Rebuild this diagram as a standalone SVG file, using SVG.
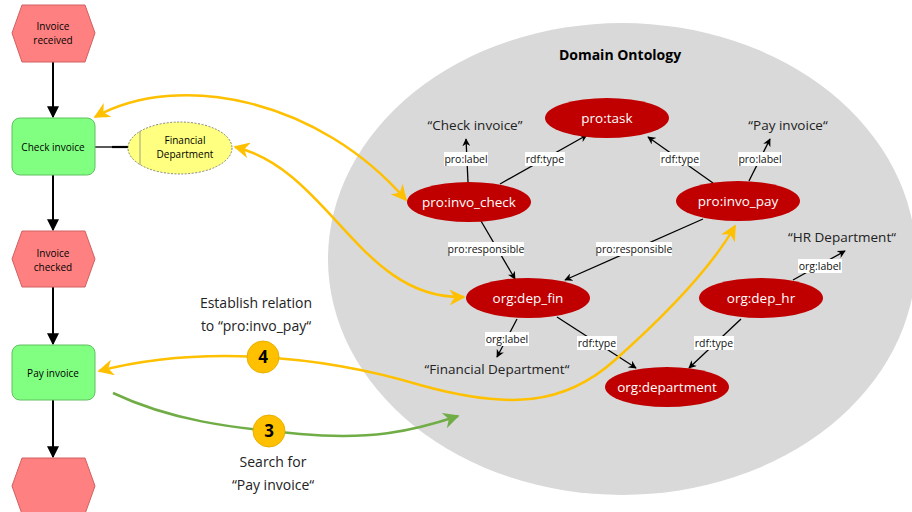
<svg xmlns="http://www.w3.org/2000/svg" width="912" height="512" viewBox="0 0 912 512">
<style>
text{font-family:"Open Sans","Liberation Sans",sans-serif;}
.ev{fill:#FF8080;stroke:#D06060;stroke-width:1}
.fn{fill:#80FF80;stroke:#60C060;stroke-width:1}
.pt{font-size:10px;fill:#000;text-anchor:middle}
.on{fill:#C00000}
.ot{font-size:13.5px;fill:#fff;text-anchor:middle}
.lit{font-size:13.5px;fill:#222;text-anchor:middle}
.el{font-size:10.5px;fill:#111;text-anchor:middle}
.elb{fill:#fff}
.bk{stroke:#000;stroke-width:1.3;fill:none;marker-end:url(#ab)}
.pf{stroke:#000;stroke-width:2;fill:none;marker-end:url(#ap)}
.yl{stroke:#FFC000;stroke-width:2.5;fill:none;marker-end:url(#ay);marker-start:url(#ays)}
.gr{stroke:#70AD47;stroke-width:2.5;fill:none;marker-end:url(#ag)}
.num{fill:#FFC000;stroke:#E8B000;stroke-width:1}
.nt{font-size:17px;font-weight:bold;fill:#000;text-anchor:middle}
.cap{font-size:14px;fill:#222;text-anchor:middle}
</style>
<defs>
<marker id="ab" viewBox="0 0 10 10" refX="9" refY="5" markerWidth="8" markerHeight="8" orient="auto" markerUnits="userSpaceOnUse"><path d="M0,0 L10,5 L0,10 L3,5 z" fill="#000"/></marker>
<marker id="ap" viewBox="0 0 10 10" refX="9" refY="5" markerWidth="12" markerHeight="12" orient="auto" markerUnits="userSpaceOnUse"><path d="M0,0 L10,5 L0,10 z" fill="#000"/></marker>
<marker id="ay" viewBox="0 0 10 10" refX="9" refY="5" markerWidth="16" markerHeight="16" orient="auto" markerUnits="userSpaceOnUse"><path d="M0,0 L10,5 L0,10 L3,5 z" fill="#FFC000"/></marker>
<marker id="ays" viewBox="0 0 10 10" refX="1" refY="5" markerWidth="16" markerHeight="16" orient="auto" markerUnits="userSpaceOnUse"><path d="M10,0 L0,5 L10,10 L7,5 z" fill="#FFC000"/></marker>
<marker id="ag" viewBox="0 0 10 10" refX="9" refY="5" markerWidth="16" markerHeight="16" orient="auto" markerUnits="userSpaceOnUse"><path d="M0,0 L10,5 L0,10 L3,5 z" fill="#70AD47"/></marker>
</defs>
<rect width="912" height="512" fill="#fff"/>
<g id="ontology-area">
<ellipse cx="622" cy="259" rx="294" ry="236" fill="#D9D9D9"/>
<text x="620" y="60" font-size="14" font-weight="bold" text-anchor="middle" fill="#000">Domain Ontology</text>
</g>
<g id="connectors">
<line class="pf" x1="53" y1="62" x2="53" y2="117"/>
<line class="pf" x1="53" y1="175" x2="53" y2="230"/>
<line class="pf" x1="53" y1="287" x2="53" y2="344"/>
<line class="pf" x1="53" y1="400" x2="53" y2="457"/>
<line x1="95" y1="147" x2="112" y2="147" stroke="#000" stroke-width="1.3"/>
<line x1="112" y1="147" x2="128" y2="147" stroke="#000" stroke-width="2.2"/>
<line class="bk" x1="468" y1="182" x2="466" y2="139"/>
<line class="bk" x1="500" y1="184" x2="587" y2="135"/>
<line class="bk" x1="713" y1="183" x2="648" y2="137"/>
<line class="bk" x1="749" y1="181" x2="770" y2="139"/>
<line class="bk" x1="481" y1="221" x2="515" y2="279"/>
<line class="bk" x1="703" y1="219" x2="565" y2="280"/>
<line class="bk" x1="793" y1="280" x2="845" y2="251"/>
<line class="bk" x1="517" y1="319" x2="497" y2="357"/>
<line class="bk" x1="557" y1="317" x2="636" y2="368"/>
<line class="bk" x1="741" y1="319" x2="689" y2="368"/>
<path class="yl" d="M95,117 C180,70 320,100 406,200"/>
<path class="yl" d="M235,147 C330,170 360,300 464,297"/>
<path class="yl" d="M99,371 C200,345 320,355 420,385 C510,410 565,405 615,360 C660,320 710,270 735,226"/>
<path class="gr" d="M113,393 C170,420 230,428 300,434 C370,440 410,432 458,416"/>
<g id="edge-labels">
<rect class="elb" x="444" y="152" width="44" height="14"/><text class="el" x="466" y="163">pro:label</text>
<rect class="elb" x="525" y="152" width="40" height="14"/><text class="el" x="545" y="163">rdf:type</text>
<rect class="elb" x="660" y="152" width="40" height="14"/><text class="el" x="680" y="163">rdf:type</text>
<rect class="elb" x="738" y="152" width="44" height="14"/><text class="el" x="760" y="163">pro:label</text>
<rect class="elb" x="448" y="242" width="76" height="14"/><text class="el" x="486" y="253">pro:responsible</text>
<rect class="elb" x="596" y="242" width="76" height="14"/><text class="el" x="634" y="253">pro:responsible</text>
<rect class="elb" x="798" y="259" width="44" height="14"/><text class="el" x="820" y="270">org:label</text>
<rect class="elb" x="485" y="332" width="44" height="14"/><text class="el" x="507" y="343">org:label</text>
<rect class="elb" x="577" y="336" width="40" height="14"/><text class="el" x="597" y="347">rdf:type</text>
<rect class="elb" x="694" y="336" width="40" height="14"/><text class="el" x="714" y="347">rdf:type</text>
</g>
</g>
<g id="invoice-received"><polygon class="ev" points="22,5 85,5 95,33 85,62 22,62 12,33"/><text class="pt" x="53" y="30">Invoice</text><text class="pt" x="53" y="44">received</text></g>
<g id="check-invoice"><rect class="fn" x="12" y="118" width="83" height="57" rx="8"/><text class="pt" x="53" y="151">Check invoice</text></g>
<g id="invoice-checked"><polygon class="ev" points="22,231 85,231 95,259 85,287 22,287 12,259"/><text class="pt" x="53" y="257">Invoice</text><text class="pt" x="53" y="271">checked</text></g>
<g id="pay-invoice"><rect class="fn" x="12" y="345" width="83" height="55" rx="8"/><text class="pt" x="53" y="377">Pay invoice</text></g>
<g id="end-event"><polygon class="ev" points="22,458 85,458 95,486 85,514 22,514 12,486"/></g>
<g id="financial-department"><ellipse cx="180" cy="148" rx="52" ry="26" fill="#FFFF80" stroke="#666" stroke-width="0.8" stroke-dasharray="2,1.5"/><line x1="140" y1="131" x2="140" y2="165" stroke="#888" stroke-width="0.8"/><text class="pt" x="185" y="144">Financial</text><text class="pt" x="185" y="158">Department</text></g>
<g id="pro-task"><ellipse class="on" cx="607" cy="118" rx="62" ry="20"/><text class="ot" x="607" y="123">pro:task</text></g>
<g id="pro-invo-check"><ellipse class="on" cx="469" cy="202" rx="62" ry="20"/><text class="ot" x="469" y="207">pro:invo_check</text></g>
<g id="pro-invo-pay"><ellipse class="on" cx="738" cy="201" rx="62" ry="20"/><text class="ot" x="738" y="206">pro:invo_pay</text></g>
<g id="org-dep-fin"><ellipse class="on" cx="528" cy="298" rx="62" ry="20"/><text class="ot" x="528" y="303">org:dep_fin</text></g>
<g id="org-dep-hr"><ellipse class="on" cx="761" cy="298" rx="62" ry="20"/><text class="ot" x="761" y="303">org:dep_hr</text></g>
<g id="org-department"><ellipse class="on" cx="667" cy="387" rx="62" ry="20"/><text class="ot" x="667" y="392">org:department</text></g>
<g id="literals">
<text class="lit" x="475" y="130">“Check invoice”</text>
<text class="lit" x="788" y="130">“Pay invoice“</text>
<text class="lit" x="842" y="242">“HR Department“</text>
<text class="lit" x="497" y="374">“Financial Department“</text>
</g>
<g id="step-4"><circle class="num" cx="263" cy="357" r="16"/><text class="nt" x="263" y="363">4</text><text class="cap" x="256" y="308">Establish relation</text><text class="cap" x="256" y="331">to “pro:invo_pay“</text></g>
<g id="step-3"><circle class="num" cx="269" cy="431" r="16"/><text class="nt" x="269" y="437">3</text><text class="cap" x="273" y="467">Search for</text><text class="cap" x="273" y="490">“Pay invoice“</text></g>
</svg>
